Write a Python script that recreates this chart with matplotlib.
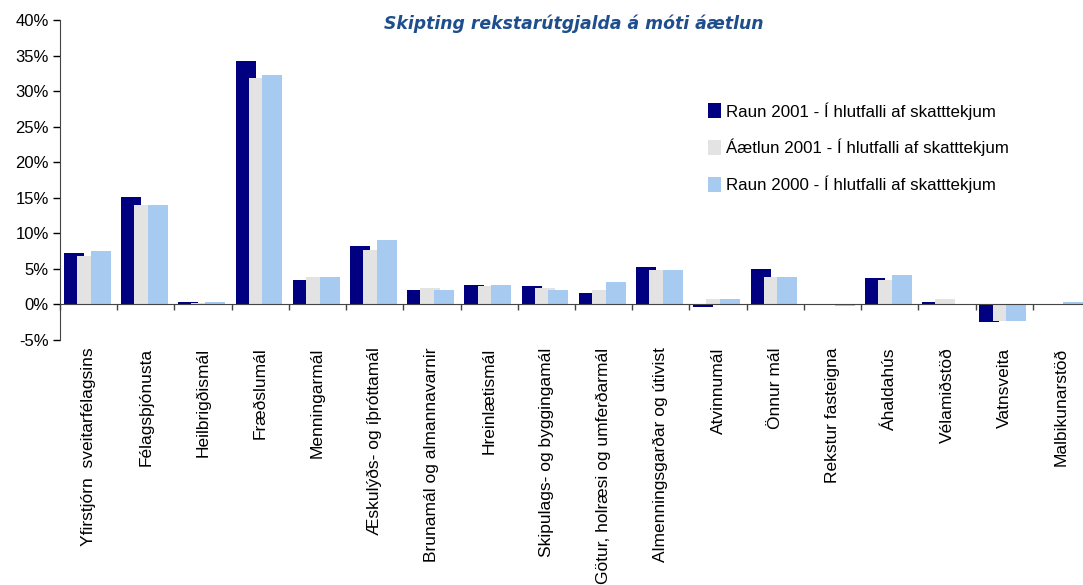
import matplotlib
matplotlib.use("Agg")
import matplotlib.pyplot as plt
from matplotlib.ticker import FuncFormatter, FixedLocator
import numpy as np

plt.rcParams["font.family"] = ["Liberation Sans", "DejaVu Sans"]

CATEGORIES = [
    "Yfirstjórn  sveitarfélagsins",
    "Félagsþjónusta",
    "Heilbrigðismál",
    "Fræðslumál",
    "Menningarmál",
    "Æskulýðs- og íþróttamál",
    "Brunamál og almannavarnir",
    "Hreinlætismál",
    "Skipulags- og byggingamál",
    "Götur, holræsi og umferðarmál",
    "Almenningsgarðar og útivist",
    "Atvinnumál",
    "Önnur mál",
    "Rekstur fasteigna",
    "Áhaldahús",
    "Vélamiðstöð",
    "Vatnsveita",
    "Malbikunarstöð",
]

RAUN_2001 = [7.2, 15.1, 0.3, 34.2, 3.4, 8.2, 2.0, 2.7, 2.6, 1.6, 5.2, -0.3, 5.0, 0.0, 3.7, 0.4, -2.5, 0.0]
AAETLUN_2001 = [6.8, 14.0, 0.2, 31.8, 3.8, 7.6, 2.3, 2.6, 2.3, 2.0, 4.9, 0.8, 3.8, 0.0, 3.4, 0.8, -2.3, 0.0]
RAUN_2000 = [7.5, 14.0, 0.3, 32.2, 3.8, 9.1, 2.0, 2.7, 2.0, 3.1, 4.9, 0.7, 3.8, -0.2, 4.2, 0.0, -2.3, 0.3]

SERIES_NAMES = [
    "Raun 2001 - Í hlutfalli af skatttekjum",
    "Áætlun 2001 - Í hlutfalli af skatttekjum",
    "Raun 2000 - Í hlutfalli af skatttekjum",
]
COLORS = ["#000080", "#E3E3E3", "#A6CAF0"]

TITLE = "Skipting rekstarútgjalda á móti áætlun"

fig = plt.figure(figsize=(10.83, 5.85), dpi=100)
ax = fig.add_axes([60 / 1083, 1 - 340 / 585, 1030 / 1083, 320 / 585])

x = np.arange(len(CATEGORIES))
width = 0.35
offsets = [-0.257, -0.027, 0.21]
for i, (vals, name) in enumerate(zip([RAUN_2001, AAETLUN_2001, RAUN_2000], SERIES_NAMES)):
    ax.bar(x + offsets[i], vals, width=width, color=COLORS[i], label=name,
           zorder=2 + i, linewidth=0)

ax.set_xlim(-0.5, len(CATEGORIES) - 0.5)
ax.set_ylim(-5, 40)
ax.set_yticks(np.arange(-5, 41, 5))
ax.yaxis.set_major_formatter(FuncFormatter(lambda v, p: f"{v:.0f}%"))
ax.tick_params(axis="y", direction="out", length=5, width=1, labelsize=12, pad=3)

ax.spines["top"].set_visible(False)
ax.spines["right"].set_visible(False)
ax.spines["left"].set_color("#444444")
ax.spines["bottom"].set_position(("data", 0))
ax.spines["bottom"].set_color("#444444")
ax.spines["bottom"].set_zorder(10)

ax.set_xticks(x)
ax.set_xticklabels(CATEGORIES, rotation=90, fontsize=12.5, va="top")
ax.tick_params(axis="x", which="major", length=0, pad=31)
ax.xaxis.set_minor_locator(FixedLocator(np.arange(len(CATEGORIES) + 1) - 0.5))
ax.tick_params(axis="x", which="minor", direction="out", length=4, width=1, color="#444444")

fig.text(574 / 1083, 1 - 24 / 585, TITLE, ha="center", va="center", fontsize=12.4,
         fontweight="bold", style="italic", color="#1F4E8C", family="DejaVu Sans")

ax.legend(loc="upper left", bbox_to_anchor=(648 / 1030, 1 - 82 / 320), frameon=False,
          fontsize=12.2, handlelength=0.75, handleheight=0.95, handletextpad=0.3,
          labelspacing=1.15, borderaxespad=0, borderpad=0)

fig.savefig("out.png", dpi=100, facecolor="white")
